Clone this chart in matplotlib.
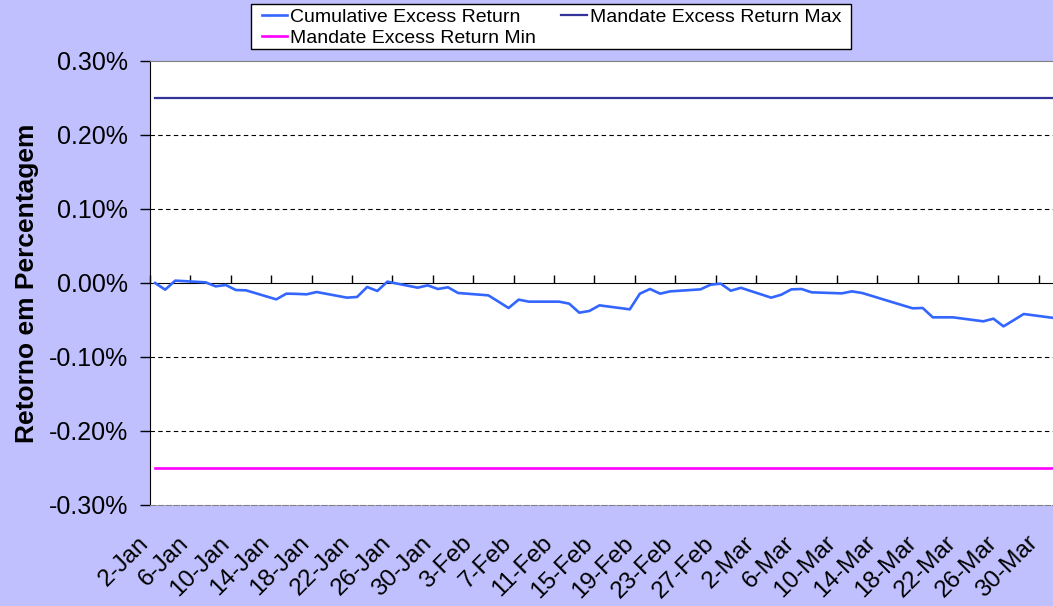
import numpy as np
import pandas as pd
import matplotlib
matplotlib.use('Agg')
import matplotlib.pyplot as plt
import matplotlib.patches as mpatches
import matplotlib.transforms as mtransforms
from matplotlib.ticker import FuncFormatter, MultipleLocator

plt.rcParams['font.family'] = ['Liberation Sans', 'DejaVu Sans']

# Trading days Jan-Mar 2008, cumulative excess return in %
dates = pd.bdate_range('2008-01-02', '2008-03-31')
cum_excess = [
    # Jan
    0.0000, -0.0090, 0.0032, 0.0009, -0.0045, -0.0027, -0.0095, -0.0099,
    -0.0221, -0.0144, -0.0147, -0.0153, -0.0122, -0.0198, -0.0189, -0.0054,
    -0.0108, 0.0018, -0.0063, -0.0032, -0.0081, -0.0058,
    # Feb
    -0.0135, -0.0167, -0.0252, -0.0338, -0.0225, -0.0252, -0.0252, -0.0279,
    -0.0401, -0.0378, -0.0302, -0.0356, -0.0144, -0.0081, -0.0144, -0.0113,
    -0.0086, -0.0023, -0.0009, -0.0104, -0.0065,
    # Mar
    -0.0198, -0.0158, -0.0086, -0.0081, -0.0126, -0.0140, -0.0113, -0.0135,
    -0.0176, -0.0218, -0.0342, -0.0338, -0.0464, -0.0464, -0.0464, -0.0518,
    -0.0482, -0.0586, -0.0503, -0.0419, -0.0473,
]
mandate_max = [0.25] * len(dates)
mandate_min = [-0.25] * len(dates)

series_names = ['Cumulative Excess Return', 'Mandate Excess Return Max',
                'Mandate Excess Return Min']
ylabel = 'Retorno em Percentagem'

# Excel-style date axis: each day is a slot, points sit in the middle of it
x = dates + pd.Timedelta(hours=12)
x_start = pd.Timestamp('2008-01-02')
x_end = x_start + pd.Timedelta(days=89.4)
ticks = pd.date_range('2008-01-02', '2008-03-30', freq='4D')

fig = plt.figure(figsize=(10.53, 6.06), dpi=100, facecolor='#C0C0FF')
ax = fig.add_axes([150/1053, 101/606, 903/1053, 444/606])
ax.set_facecolor('white')

l_cum, = ax.plot(x, cum_excess, color='#3366FF', lw=1.9, solid_joinstyle='round')
l_max, = ax.plot(x, mandate_max, color='#333399', lw=1.6)
l_min, = ax.plot(x, mandate_min, color='#FF00FF', lw=1.9)

ax.set_xlim(x_start, x_end)
ax.set_ylim(-0.30, 0.30)
ax.yaxis.set_major_locator(MultipleLocator(0.10))
ax.yaxis.set_major_formatter(FuncFormatter(lambda v, p: f'{v:.2f}%'))

# dashed gridlines (not on zero, where the axis line sits)
for yv in [-0.2, -0.1, 0.1, 0.2]:
    ax.axhline(yv, color='black', lw=0.8, ls=(0, (4, 3)), zorder=0.5)

ax.spines['right'].set_visible(False)
ax.spines['top'].set_color('#808080')
ax.spines['bottom'].set_color('#808080')
ax.spines['bottom'].set_linestyle((0, (5, 2)))
ax.spines['left'].set_color('black')

ax.tick_params(axis='y', direction='out', length=7, width=1, pad=9, labelsize=18)

# date labels at the bottom, no tick marks there
ax.set_xticks(ticks)
ax.set_xticklabels([f'{d.day}-{d.strftime("%b")}' for d in ticks])
ax.tick_params(axis='x', length=0, pad=28, labelsize=17.5)
shift = mtransforms.ScaledTranslation(-5/100, 4/100, fig.dpi_scale_trans)
for lab in ax.get_xticklabels():
    lab.set_rotation(45)
    lab.set_ha('right')
    lab.set_va('center')
    lab.set_rotation_mode('anchor')
    lab.set_transform(lab.get_transform() + shift)

# horizontal axis crossing at zero with its tick marks
sec = ax.secondary_xaxis(0.5)
sec.set_xticks(ticks)
sec.set_xticklabels([])
sec.spines['bottom'].set_color('#808080')
sec.spines['bottom'].set_linewidth(2)
sec.tick_params(axis='x', direction='out', length=6, width=1, color='black')

ax.set_ylabel(ylabel, fontsize=19, fontweight='bold', labelpad=7)

# legend box drawn separately so the padding can differ per side
frame = mpatches.Rectangle((251/1053, 1 - 49/606), 600/1053, 45/606,
                           transform=fig.transFigure, facecolor='white',
                           edgecolor='black', lw=1, zorder=1)
fig.add_artist(frame)
leg = fig.legend([l_cum, l_min, l_max],
                 [series_names[0], series_names[2], series_names[1]],
                 ncol=2, loc='upper left', bbox_to_anchor=(262/1053, 1 - 8/606),
                 fontsize=14, frameon=False, borderpad=0, labelspacing=0.2,
                 handlelength=1.3, handletextpad=0.15, columnspacing=1.3,
                 borderaxespad=0)
leg.set_zorder(2)

fig.savefig('out.png', dpi=100, facecolor=fig.get_facecolor())
